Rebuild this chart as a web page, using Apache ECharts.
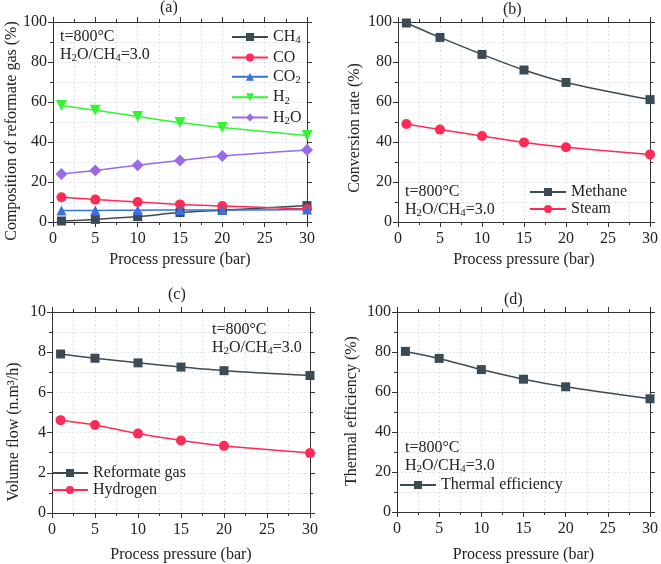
<!DOCTYPE html>
<html>
<head>
<meta charset="utf-8">
<script src="https://cdn.jsdelivr.net/npm/echarts@6/dist/echarts.min.js"></script>
<style>
html,body{margin:0;padding:0;background:#fff;}
#c{width:661px;height:564px;}
</style>
</head>
<body>
<div id="c"></div>
<script>
// ---- data ----
const pressure = [1, 5, 10, 15, 20, 30];
// (a) composition of reformate gas (%)
const compCH4 = [0.5, 1.3, 2.7, 4.7, 5.9, 8.2];
const compCO  = [12.4, 11.2, 10.0, 8.8, 8.0, 6.5];
const compCO2 = [5.7, 5.8, 5.9, 6.0, 6.0, 6.2];
const compH2  = [58.2, 55.9, 52.8, 49.7, 47.2, 43.3];
const compH2O = [24.0, 25.8, 28.4, 30.8, 33.0, 36.0];
// (b) conversion rate (%)
const convMethane = [99.5, 92.3, 83.8, 76.0, 69.8, 61.2];
const convSteam   = [49.0, 46.2, 43.0, 39.8, 37.4, 33.8];
// (c) volume flow (n.m3/h)
const flowReformate = [7.91, 7.70, 7.47, 7.26, 7.08, 6.84];
const flowHydrogen  = [4.62, 4.38, 3.95, 3.61, 3.34, 2.98];
// (d) thermal efficiency (%)
const thermalEff = [80.3, 76.8, 71.2, 66.4, 62.6, 56.6];
// tick labels / axis ranges
const xTicks = {min: 0, max: 30, interval: 5};
const yPct = {min: 0, max: 100, interval: 20};
const yFlow = {min: 0, max: 10, interval: 2};

const FONT = 'Liberation Serif';
const C_DARK = '#3b4b56', C_RED = '#ff2a55', C_BLUE = '#3a6fe0', C_GREEN = '#33f533', C_PURPLE = '#9a6ae8';
const GRIDC = '#dde5ea';

const grids = [
  {left: 53, top: 22, width: 254, height: 200},
  {left: 398, top: 22, width: 254, height: 200},
  {left: 52, top: 312, width: 258, height: 204},
  {left: 397, top: 312, width: 255, height: 201}
];

const yRanges = [yPct, yPct, yFlow, yPct];
const yNames = ['Composition of reformate gas (%)', 'Conversion rate (%)', 'Volume flow (n.m³/h)', 'Thermal efficiency (%)'];
const yNamePos = [[12, 131], [355, 128], [14, 432], [352, 411]];
const xNameGap = [30, 30, 34, 35];

const xAxes = [], yAxes = [];
grids.forEach((g, i) => {
  xAxes.push({
    type: 'value', gridIndex: i, position: 'bottom', min: xTicks.min, max: xTicks.max, interval: xTicks.interval,
    name: 'Process pressure (bar)', nameLocation: 'middle', nameGap: xNameGap[i],
    nameTextStyle: {fontFamily: FONT, fontSize: 16, color: '#222'},
    axisLine: {onZero: false, lineStyle: {color: '#333', width: 1}},
    axisTick: {inside: false, length: 5, lineStyle: {color: '#333'}},
    minorTick: {show: true, splitNumber: 2, length: 3, lineStyle: {color: '#333'}},
    axisLabel: {fontFamily: FONT, fontSize: 16, color: '#222', margin: 9},
    splitLine: {show: true, lineStyle: {color: GRIDC, type: [2, 2]}},
    minorSplitLine: {show: true, lineStyle: {color: GRIDC, type: [2, 2]}}
  });
  xAxes.push({
    type: 'value', gridIndex: i, position: 'top', min: xTicks.min, max: xTicks.max, interval: xTicks.interval,
    axisLine: {onZero: false, lineStyle: {color: '#333', width: 1}},
    axisTick: {inside: false, length: 5, lineStyle: {color: '#333'}},
    minorTick: {show: true, splitNumber: 2, length: 3, lineStyle: {color: '#333'}},
    axisLabel: {show: false}, splitLine: {show: false}
  });
  const yr = yRanges[i];
  yAxes.push({
    type: 'value', gridIndex: i, position: 'left', min: yr.min, max: yr.max, interval: yr.interval,
    axisLine: {onZero: false, lineStyle: {color: '#333', width: 1}},
    axisTick: {inside: false, length: 5, lineStyle: {color: '#333'}},
    minorTick: {show: true, splitNumber: 2, length: 3, lineStyle: {color: '#333'}},
    axisLabel: {fontFamily: FONT, fontSize: 16, color: '#222', margin: 6},
    splitLine: {show: true, lineStyle: {color: GRIDC, type: [2, 2]}},
    minorSplitLine: {show: true, lineStyle: {color: GRIDC, type: [2, 2]}}
  });
  yAxes.push({
    type: 'value', gridIndex: i, position: 'right', min: yr.min, max: yr.max, interval: yr.interval,
    axisLine: {onZero: false, lineStyle: {color: '#333', width: 1}},
    axisTick: {inside: false, length: 5, lineStyle: {color: '#333'}},
    minorTick: {show: true, splitNumber: 2, length: 3, lineStyle: {color: '#333'}},
    axisLabel: {show: false}, splitLine: {show: false}
  });
});

const DOWN_TRI = 'path://M0,0 L10,0 L5,9 Z';
function pairs(ys) { return pressure.map((x, k) => [x, ys[k]]); }
function ser(name, ys, gi, color, symbol, size) {
  return {
    name: name, type: 'line', xAxisIndex: gi * 2, yAxisIndex: gi * 2, data: pairs(ys),
    smooth: 0.3, symbol: symbol, symbolSize: size, showSymbol: true,
    lineStyle: {color: color, width: 1.5}, itemStyle: {color: color}, clip: true
  };
}

const series = [
  ser('CH4', compCH4, 0, C_DARK, 'rect', 9),
  ser('CO', compCO, 0, C_RED, 'circle', 10),
  ser('CO2', compCO2, 0, C_BLUE, 'triangle', 10),
  ser('H2', compH2, 0, C_GREEN, DOWN_TRI, 11),
  ser('H2O', compH2O, 0, C_PURPLE, 'diamond', 12),
  ser('Methane', convMethane, 1, C_DARK, 'rect', 9),
  ser('Steam', convSteam, 1, C_RED, 'circle', 10),
  ser('Reformate gas', flowReformate, 2, C_DARK, 'rect', 9),
  ser('Hydrogen', flowHydrogen, 2, C_RED, 'circle', 10),
  ser('Thermal efficiency', thermalEff, 3, C_DARK, 'rect', 9)
];

const rich = {
  n: {fontFamily: FONT, fontSize: 16, fontWeight: 'normal', color: '#222'},
  s: {fontFamily: FONT, fontSize: 11, fontWeight: 'normal', color: '#222', padding: [7, 0, 0, 0]}
};
const subNames = {
  'CH4': '{n|CH}{s|4}', 'CO': '{n|CO}', 'CO2': '{n|CO}{s|2}', 'H2': '{n|H}{s|2}', 'H2O': '{n|H}{s|2}{n|O}'
};
function legendFmt(name) { return subNames[name] || ('{n|' + name + '}'); }

function legend(names, left, top, gap) {
  return {
    data: names, orient: 'vertical', left: left, top: top, itemWidth: 36, itemHeight: 10, itemGap: gap,
    formatter: legendFmt, textStyle: {fontFamily: FONT, fontSize: 16, color: '#222', rich: rich},
    selectedMode: false, padding: 0
  };
}

function note(left, top) {
  return [
    {text: '{n|t=800°C}', left: left, top: top, padding: 0, textStyle: {fontWeight: 'normal', rich: rich}},
    {text: '{n|H}{s|2}{n|O/CH}{s|4}{n|=3.0}', left: left, top: top + 17, padding: 0, textStyle: {fontWeight: 'normal', rich: rich}}
  ];
}

const tStyle = {fontFamily: FONT, fontSize: 16, fontWeight: 'normal', color: '#222'};
const titles = [
  {text: '(a)', left: 160, top: 0, padding: 0, textStyle: tStyle},
  {text: '(b)', left: 503, top: 2, padding: 0, textStyle: tStyle},
  {text: '(c)', left: 168, top: 287, padding: 0, textStyle: tStyle},
  {text: '(d)', left: 504, top: 292, padding: 0, textStyle: tStyle}
].concat(note(60, 29), note(405, 184), note(212, 322), note(405, 440));

const graphics = yNames.map((t, i) => ({
  type: 'text', x: yNamePos[i][0], y: yNamePos[i][1], rotation: Math.PI / 2,
  style: {text: t, fill: '#222', font: '16px "Liberation Serif"', align: 'center', verticalAlign: 'middle'}
}));

const chart = echarts.init(document.getElementById('c'), null, {renderer: 'canvas'});
chart.setOption({
  animation: false,
  backgroundColor: '#fff',
  title: titles,
  grid: grids,
  xAxis: xAxes,
  yAxis: yAxes,
  graphic: graphics,
  legend: [
    legend(['CH4', 'CO', 'CO2', 'H2', 'H2O'], 231, 29, 3.4),
    legend(['Methane', 'Steam'], 529, 184, 1),
    legend(['Reformate gas', 'Hydrogen'], 51, 465, 1),
    legend(['Thermal efficiency'], 399, 477, 0)
  ],
  series: series
});
</script>
</body>
</html>
